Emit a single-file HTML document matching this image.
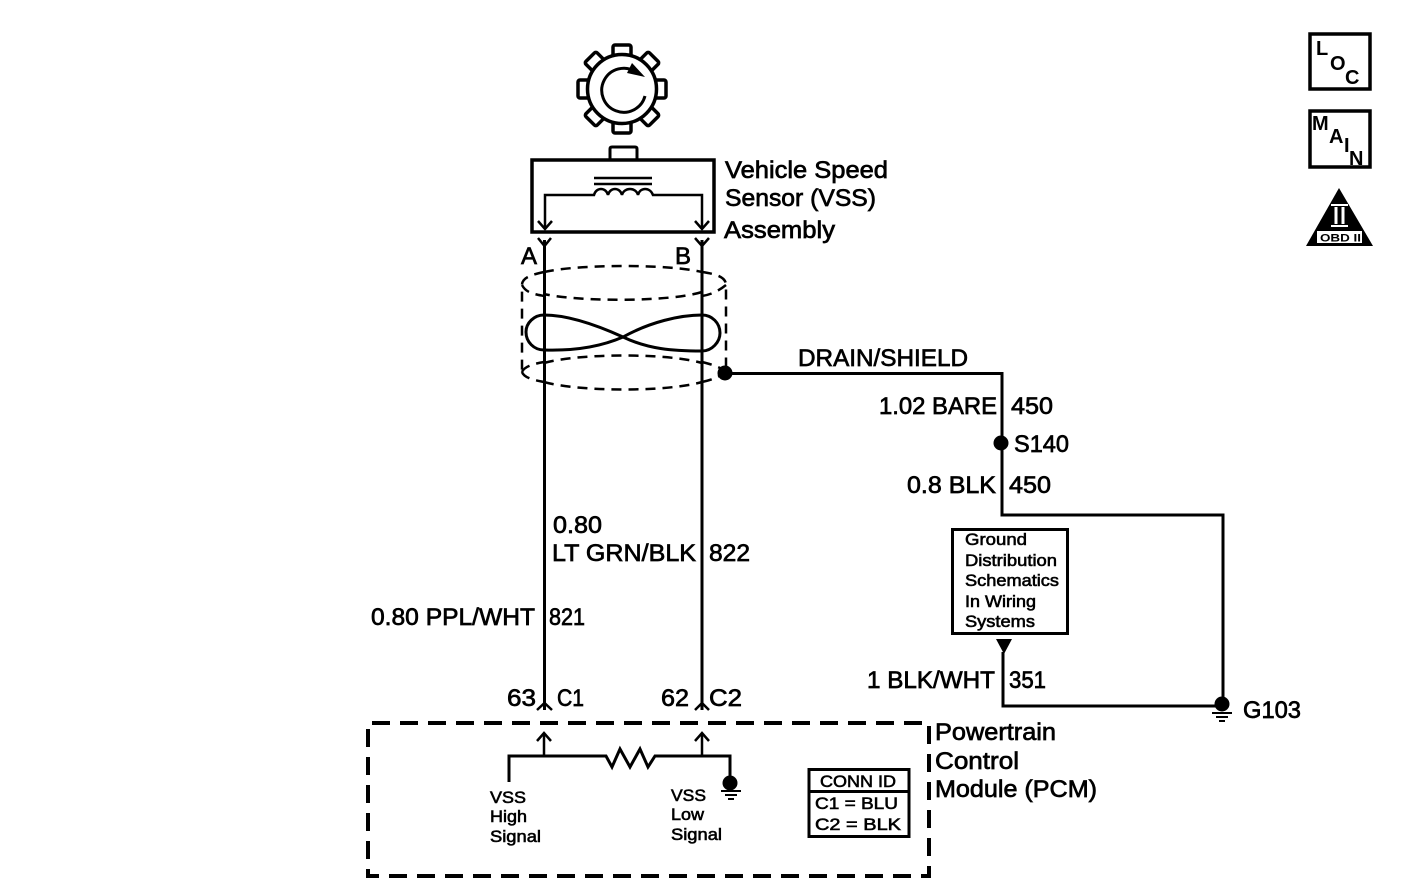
<!DOCTYPE html>
<html><head><meta charset="utf-8"><style>
html,body{margin:0;padding:0;background:#fff}
svg{display:block}
text{font-family:"Liberation Sans",sans-serif;fill:#000;stroke:#000;stroke-width:.7}
.l{font-size:24px}
.s{font-size:17px;stroke-width:.6}
.m{font-size:20px;font-weight:bold;stroke-width:0}
</style></head><body>
<svg width="1408" height="896" viewBox="0 0 1408 896" xmlns="http://www.w3.org/2000/svg">
<g fill="none" stroke="#000" stroke-width="3">
<!-- gear -->
<g stroke-width="3.500" fill="#fff">
<rect x="-9" y="-44" width="18" height="12" rx="2" transform="translate(622 89)"/>
<rect x="-8" y="-45" width="16" height="13" rx="2" transform="translate(622 89) rotate(45)"/>
<rect x="-9" y="-44" width="18" height="12" rx="2" transform="translate(622 89) rotate(90)"/>
<rect x="-8" y="-45" width="16" height="13" rx="2" transform="translate(622 89) rotate(135)"/>
<rect x="-9" y="-44" width="18" height="12" rx="2" transform="translate(622 89) rotate(180)"/>
<rect x="-8" y="-45" width="16" height="13" rx="2" transform="translate(622 89) rotate(225)"/>
<rect x="-9" y="-44" width="18" height="12" rx="2" transform="translate(622 89) rotate(270)"/>
<rect x="-8" y="-45" width="16" height="13" rx="2" transform="translate(622 89) rotate(315)"/>
</g>
<circle cx="622" cy="89" r="34.500" fill="#fff" stroke-width="3.500"/>
<path d="M636 72A22 22 0 1 0 645 96" stroke-width="3"/>
<path d="M632 63L645 77L627 73Z" fill="#000" stroke="none"/>
<!-- sensor -->
<path d="M610 160V149Q610 147 612 147H635Q637 147 637 149V160" stroke-width="3"/>
<rect x="532" y="160" width="182" height="72" stroke-width="3.500"/>
<path d="M594 178H652M594 184H652" stroke-width="2.500"/>
<path d="M545 229V195H594C596 187 606 187 608 195C610 187 620 187 622 195C624 187 636 187 638 195C640 187 650 187 653 195H702V229" stroke-width="2.500"/>
<path d="M538 221L545 229L552 221M695 221L702 229L709 221" stroke-width="2.500"/>
<!-- main wires -->
<path d="M544.500 240V710M702 240V710"/>
<path d="M538 238L544.500 246L551 238M695 238L702 246L709 238" stroke-width="2.500"/>
<path d="M537 710L544.500 703L552 710M695 710L702 703L709 710" stroke-width="2.500"/>
<!-- shield -->
<g stroke-width="2.500" stroke-dasharray="10 7">
<path d="M544 272C580 264 668 264 702 272"/>
<path d="M702 272C716 274 726 277 726 285V373"/>
<path d="M544 272C530 275 522 278 522 285V372"/>
<path d="M522 285C526 293 534 294 544 296"/>
<path d="M702 292C670 302 580 302 544 294"/>
<path d="M702 296C708 295 716 293 726 285"/>
<path d="M544 363C580 353 668 353 702 363"/>
<path d="M522 372C524 367 532 364 544 362"/>
<path d="M702 362C710 364 718 366 725 371"/>
<path d="M522 372C524 378 534 380 544 382"/>
<path d="M544 382C580 392 668 392 702 382"/>
<path d="M702 382C712 380 718 377 725 373"/>
</g>
<path d="M544 315C565 315 590 322 623 337C648 349 672 351 702 351C712 351 720 342 720 333C720 323 712 315 702 315C680 315 650 322 623 337C600 347 575 351 544 350C534 350 526 342 526 332C526 323 534 315 544 315Z"/>
<!-- drain -->
<path d="M725 373.500H1002V515H1223V706H1003V652"/>
<rect x="952.500" y="529.500" width="115" height="104"/>
<!-- PCM -->
<path d="M368 729V876H929V723H368" stroke-width="4" stroke-dasharray="18 10"/>
<path d="M509 782V756H606L612 767L620 749L630 767L640 749L648 767L655 756H730V776"/>
<path d="M544 756V734M702 756V734" stroke-width="2.500"/>
<path d="M537 741L544 733L551 741M695 741L702 733L709 741" stroke-width="2.500"/>
<path d="M721 791H741M725 795H737M728 799H734" stroke-width="2"/>
<path d="M1212 713H1232M1216 717H1228M1219 721H1225" stroke-width="2"/>
<!-- conn id -->
<rect x="809" y="769.500" width="100" height="67"/>
<path d="M809 791.500H909"/>
<!-- icons -->
<rect x="1310" y="34" width="60" height="55" stroke-width="3.500"/>
<rect x="1310" y="111" width="60" height="56" stroke-width="3.500"/>
</g>
<g fill="#000">
<circle cx="725" cy="373" r="7.500"/>
<circle cx="1001" cy="443" r="7.500"/>
<circle cx="1222" cy="704" r="7.500"/>
<circle cx="730" cy="783" r="7.500"/>
<path d="M996 639H1012L1004 654Z"/>
<path d="M1339 188L1373 246H1306Z"/>
</g>
<rect x="1317" y="231" width="45" height="12" fill="#fff"/>
<path d="M1331 205H1348M1331 226H1348" stroke="#fff" stroke-width="2"/>
<path d="M1336 207V224M1343 207V224" stroke="#fff" stroke-width="3"/>
<text x="1320" y="241.500" style="font-size:11px;font-weight:bold;stroke-width:0" textLength="41" lengthAdjust="spacingAndGlyphs">OBD II</text>

<text class="m" x="1316" y="55">L</text>
<text class="m" x="1330" y="70">O</text>
<text class="m" x="1345" y="84">C</text>
<text class="m" x="1312" y="130">M</text>
<text class="m" x="1329" y="143">A</text>
<text class="m" x="1344" y="152">I</text>
<text class="m" x="1349" y="165">N</text>

<text class="l" x="725" y="178" textLength="163" lengthAdjust="spacingAndGlyphs">Vehicle Speed</text>
<text class="l" x="725" y="206" textLength="151" lengthAdjust="spacingAndGlyphs">Sensor (VSS)</text>
<text class="l" x="724" y="238" textLength="111" lengthAdjust="spacingAndGlyphs">Assembly</text>
<text class="l" x="521" y="264">A</text>
<text class="l" x="675" y="264">B</text>
<text class="l" x="798" y="366" textLength="170" lengthAdjust="spacingAndGlyphs">DRAIN/SHIELD</text>
<text class="l" x="879" y="414" textLength="118" lengthAdjust="spacingAndGlyphs">1.02 BARE</text>
<text class="l" x="1011" y="414" textLength="42" lengthAdjust="spacingAndGlyphs">450</text>
<text class="l" x="1014" y="452" textLength="55" lengthAdjust="spacingAndGlyphs">S140</text>
<text class="l" x="907" y="493" textLength="89" lengthAdjust="spacingAndGlyphs">0.8 BLK</text>
<text class="l" x="1009" y="493" textLength="42" lengthAdjust="spacingAndGlyphs">450</text>
<text class="l" x="553" y="533" textLength="49" lengthAdjust="spacingAndGlyphs">0.80</text>
<text class="l" x="552" y="561" textLength="144" lengthAdjust="spacingAndGlyphs">LT GRN/BLK</text>
<text class="l" x="709" y="561" textLength="41" lengthAdjust="spacingAndGlyphs">822</text>
<text class="l" x="371" y="625" textLength="164" lengthAdjust="spacingAndGlyphs">0.80 PPL/WHT</text>
<text class="l" x="549" y="625" textLength="36" lengthAdjust="spacingAndGlyphs">821</text>
<text class="l" x="507" y="706" textLength="29" lengthAdjust="spacingAndGlyphs">63</text>
<text class="l" x="557" y="706" textLength="27" lengthAdjust="spacingAndGlyphs">C1</text>
<text class="l" x="661" y="706" textLength="28" lengthAdjust="spacingAndGlyphs">62</text>
<text class="l" x="709" y="706" textLength="33" lengthAdjust="spacingAndGlyphs">C2</text>
<text class="l" x="867" y="688" textLength="128" lengthAdjust="spacingAndGlyphs">1 BLK/WHT</text>
<text class="l" x="1009" y="688" textLength="37" lengthAdjust="spacingAndGlyphs">351</text>
<text class="l" x="1243" y="718" textLength="58" lengthAdjust="spacingAndGlyphs">G103</text>
<text class="l" x="935" y="740" textLength="121" lengthAdjust="spacingAndGlyphs">Powertrain</text>
<text class="l" x="935" y="769" textLength="84" lengthAdjust="spacingAndGlyphs">Control</text>
<text class="l" x="935" y="797" textLength="162" lengthAdjust="spacingAndGlyphs">Module (PCM)</text>

<text class="s" x="965" y="545" textLength="62" lengthAdjust="spacingAndGlyphs">Ground</text>
<text class="s" x="965" y="566" textLength="92" lengthAdjust="spacingAndGlyphs">Distribution</text>
<text class="s" x="965" y="586" textLength="94" lengthAdjust="spacingAndGlyphs">Schematics</text>
<text class="s" x="965" y="607" textLength="71" lengthAdjust="spacingAndGlyphs">In Wiring</text>
<text class="s" x="965" y="627" textLength="70" lengthAdjust="spacingAndGlyphs">Systems</text>
<text class="s" x="490" y="803" textLength="36" lengthAdjust="spacingAndGlyphs">VSS</text>
<text class="s" x="490" y="822" textLength="37" lengthAdjust="spacingAndGlyphs">High</text>
<text class="s" x="490" y="842" textLength="51" lengthAdjust="spacingAndGlyphs">Signal</text>
<text class="s" x="671" y="801" textLength="35" lengthAdjust="spacingAndGlyphs">VSS</text>
<text class="s" x="671" y="820" textLength="33" lengthAdjust="spacingAndGlyphs">Low</text>
<text class="s" x="671" y="840" textLength="51" lengthAdjust="spacingAndGlyphs">Signal</text>
<text class="s" x="820" y="787" textLength="76" lengthAdjust="spacingAndGlyphs">CONN ID</text>
<text class="s" x="815" y="809" textLength="83" lengthAdjust="spacingAndGlyphs">C1 = BLU</text>
<text class="s" x="815" y="830" textLength="86" lengthAdjust="spacingAndGlyphs">C2 = BLK</text>
</svg>
</body></html>
